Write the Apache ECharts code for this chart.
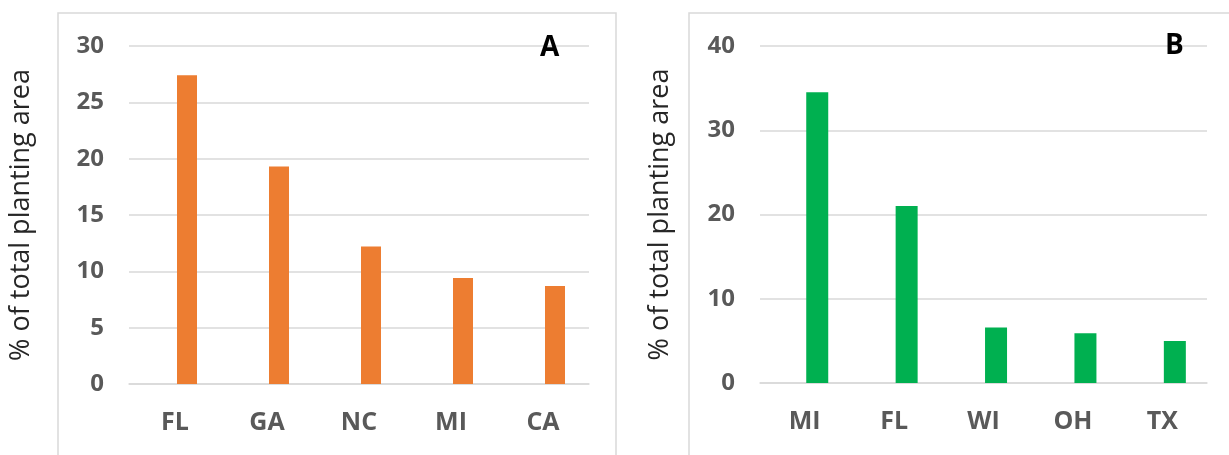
<!DOCTYPE html>
<html>
<head>
<meta charset="utf-8">
<script src="https://cdn.jsdelivr.net/npm/echarts@6/dist/echarts.min.js"></script>
<style>
html,body{margin:0;padding:0;background:#fff;}
#chart{width:1229px;height:455px;}
</style>
</head>
<body>
<div id="chart"></div>
<script>
// Panel A
const categoriesA = ['FL', 'GA', 'NC', 'MI', 'CA'];
const valuesA = [27.4, 19.3, 12.2, 9.4, 8.7];
const yTicksA = { min: 0, max: 30, interval: 5 };
// Panel B
const categoriesB = ['MI', 'FL', 'WI', 'OH', 'TX'];
const valuesB = [34.5, 21.0, 6.6, 5.9, 5.0];
const yTicksB = { min: 0, max: 40, interval: 10 };
const yAxisTitle = '% of total planting area';
const panelLabels = ['A', 'B'];

const FONT = 'Open Sans';
const gridColor = '#d9d9d9';
const labelColor = '#595959';

const chart = echarts.init(document.getElementById('chart'), null, { renderer: 'canvas' });

function xAxisFor(cats, gridIndex) {
  return {
    type: 'category', gridIndex, data: cats,
    axisLine: { show: true, lineStyle: { color: gridColor, width: 1.5 } },
    axisTick: { show: false },
    axisLabel: { color: labelColor, fontFamily: FONT, fontWeight: 'bold', fontSize: 25, margin: 26 }
  };
}
function yAxisFor(t, gridIndex, gap) {
  return {
    type: 'value', gridIndex, min: t.min, max: t.max, interval: t.interval,
    name: yAxisTitle, nameLocation: 'middle', nameGap: gap, nameRotate: 90,
    nameTextStyle: { color: '#262626', fontFamily: FONT, fontSize: 27 },
    axisLine: { show: false }, axisTick: { show: false },
    axisLabel: { color: labelColor, fontFamily: FONT, fontWeight: 'bold', fontSize: 24, margin: 25 },
    splitLine: { lineStyle: { color: gridColor, width: 1.5 } }
  };
}

chart.setOption({
  animation: false,
  backgroundColor: '#ffffff',
  graphic: [
    { type: 'rect', shape: { x: 58, y: 13, width: 558, height: 460 }, style: { fill: 'none', stroke: gridColor, lineWidth: 1.5 }, silent: true },
    { type: 'rect', shape: { x: 689, y: 13, width: 560, height: 460 }, style: { fill: 'none', stroke: gridColor, lineWidth: 1.5 }, silent: true }
  ],
  title: [
    { text: panelLabels[0], left: 535, top: 29, textStyle: { color: '#000', fontFamily: FONT, fontWeight: 'bold', fontSize: 28 } },
    { text: panelLabels[1], left: 1160, top: 27, textStyle: { color: '#000', fontFamily: FONT, fontWeight: 'bold', fontSize: 28 } }
  ],
  grid: [
    { left: 129, top: 46, width: 460, height: 338 },
    { left: 760, top: 46, width: 447, height: 337 }
  ],
  xAxis: [xAxisFor(categoriesA, 0), xAxisFor(categoriesB, 1)],
  yAxis: [yAxisFor(yTicksA, 0, 94), yAxisFor(yTicksB, 1, 86)],
  series: [
    { type: 'bar', xAxisIndex: 0, yAxisIndex: 0, data: [], barWidth: 20, barGap: '20%' },
    { type: 'bar', xAxisIndex: 0, yAxisIndex: 0, data: valuesA, barWidth: 20, barGap: '20%', itemStyle: { color: '#ED7D31' } },
    { type: 'bar', xAxisIndex: 1, yAxisIndex: 1, data: [], barWidth: 22, barGap: '14%' },
    { type: 'bar', xAxisIndex: 1, yAxisIndex: 1, data: valuesB, barWidth: 22, barGap: '14%', itemStyle: { color: '#00B050' } }
  ]
});
</script>
</body>
</html>
